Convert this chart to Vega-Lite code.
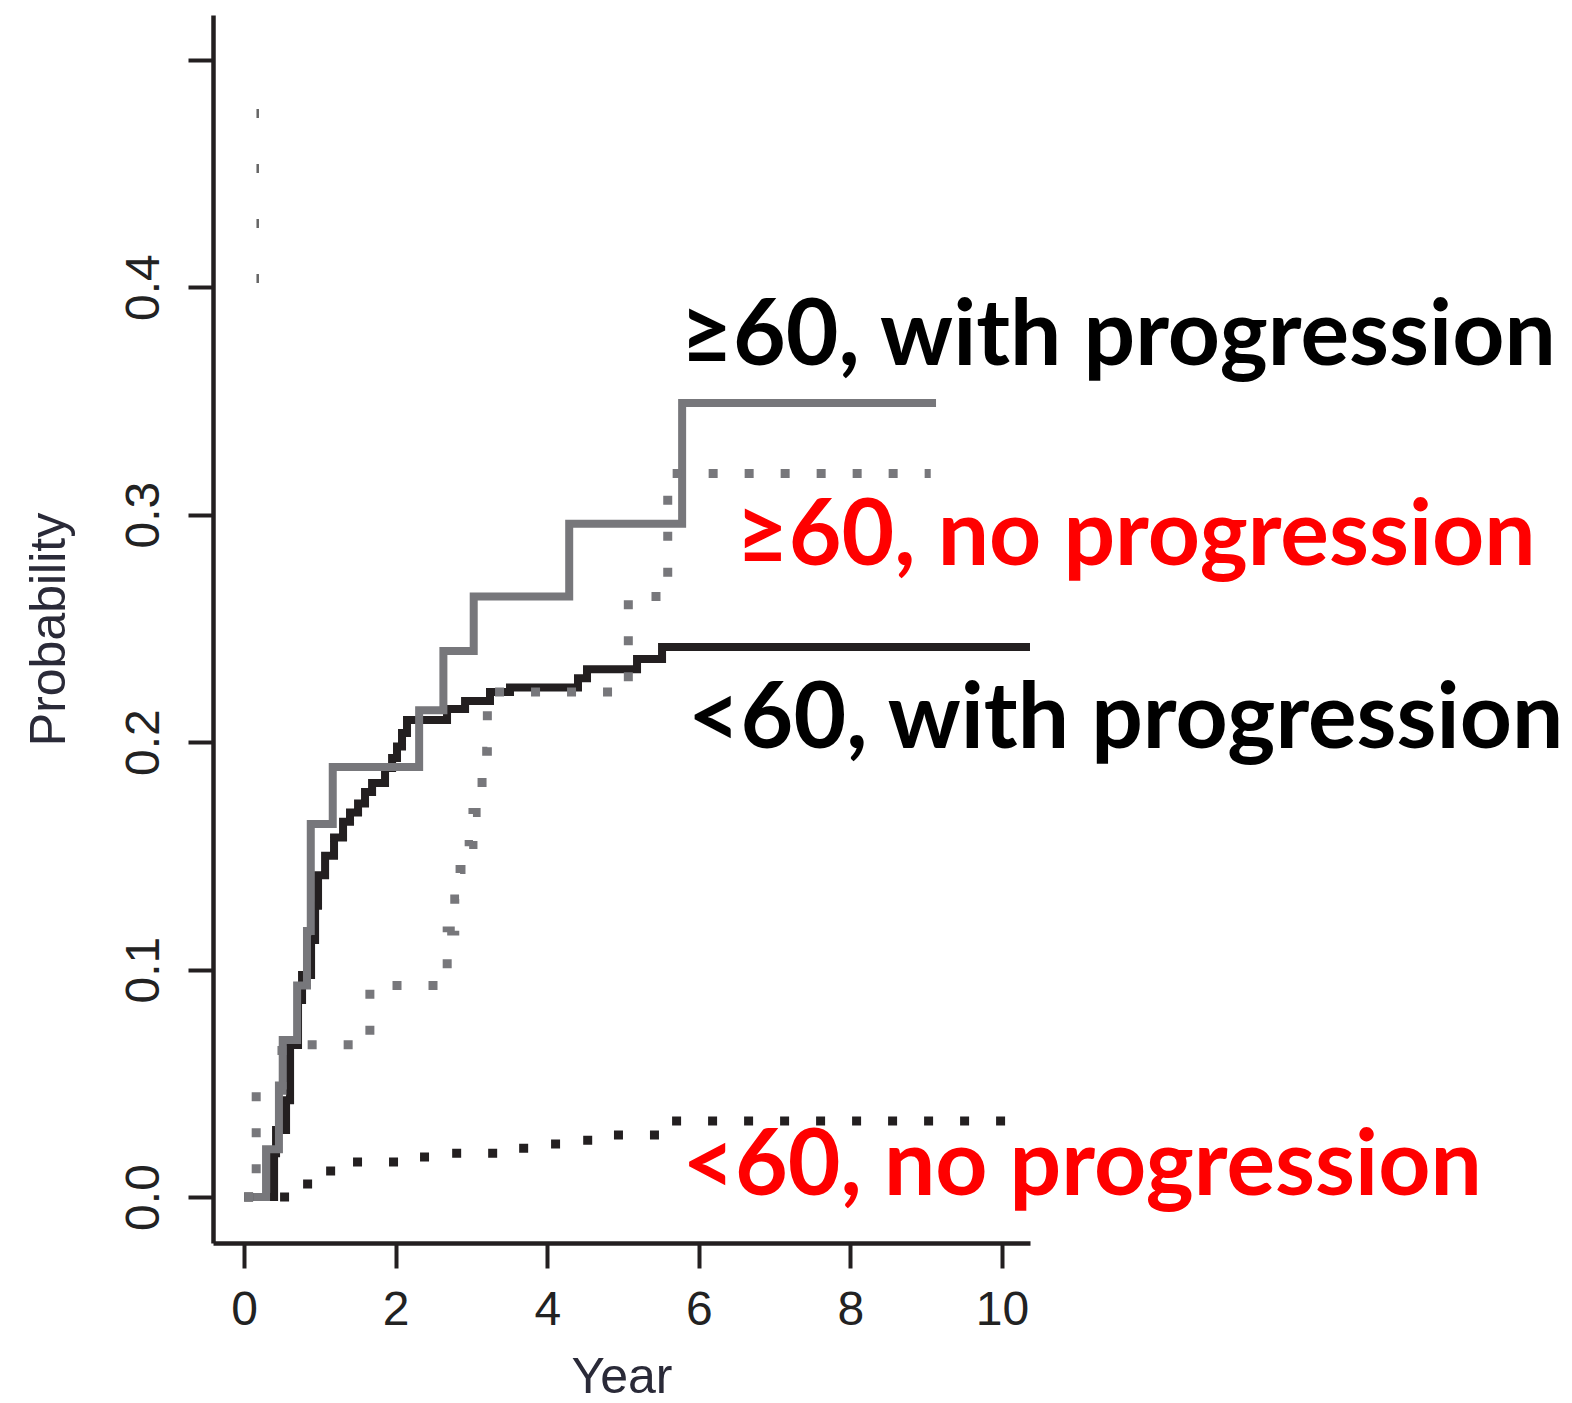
{
  "$schema": "https://vega.github.io/schema/vega-lite/v6.json",
  "width": 817,
  "height": 1228,
  "autosize": {"type": "none"},
  "padding": {"left": 213, "top": 15, "right": 542, "bottom": 160},
  "background": "white",
  "config": {
    "view": {"stroke": null},
    "axis": {
      "grid": false,
      "domainColor": "#231f20",
      "domainWidth": 4.5,
      "tickColor": "#231f20",
      "tickWidth": 4,
      "tickSize": 25,
      "labelFont": "Liberation Sans",
      "labelFontSize": 48,
      "labelColor": "#222222",
      "labelFlush": false,
      "labelOverlap": false,
      "labelBound": false,
      "titleFont": "Liberation Sans",
      "titleFontSize": 50,
      "titleFontWeight": "normal",
      "titleColor": "#2a2a38"
    }
  },
  "datasets": {
    "curves": [
      {"series": "<60, with progression", "year": 0, "prob": 0},
      {"series": "<60, with progression", "year": 0.396, "prob": 0.0193},
      {"series": "<60, with progression", "year": 0.422, "prob": 0.0295},
      {"series": "<60, with progression", "year": 0.554, "prob": 0.0426},
      {"series": "<60, with progression", "year": 0.607, "prob": 0.0668},
      {"series": "<60, with progression", "year": 0.712, "prob": 0.0866},
      {"series": "<60, with progression", "year": 0.765, "prob": 0.0976},
      {"series": "<60, with progression", "year": 0.884, "prob": 0.113},
      {"series": "<60, with progression", "year": 0.937, "prob": 0.128},
      {"series": "<60, with progression", "year": 0.976, "prob": 0.1415},
      {"series": "<60, with progression", "year": 1.069, "prob": 0.150},
      {"series": "<60, with progression", "year": 1.187, "prob": 0.158},
      {"series": "<60, with progression", "year": 1.306, "prob": 0.165},
      {"series": "<60, with progression", "year": 1.398, "prob": 0.169},
      {"series": "<60, with progression", "year": 1.504, "prob": 0.173},
      {"series": "<60, with progression", "year": 1.596, "prob": 0.178},
      {"series": "<60, with progression", "year": 1.689, "prob": 0.182},
      {"series": "<60, with progression", "year": 1.860, "prob": 0.1886},
      {"series": "<60, with progression", "year": 1.953, "prob": 0.193},
      {"series": "<60, with progression", "year": 2.018, "prob": 0.198},
      {"series": "<60, with progression", "year": 2.084, "prob": 0.204},
      {"series": "<60, with progression", "year": 2.150, "prob": 0.2097},
      {"series": "<60, with progression", "year": 2.678, "prob": 0.2145},
      {"series": "<60, with progression", "year": 2.916, "prob": 0.218},
      {"series": "<60, with progression", "year": 3.245, "prob": 0.222},
      {"series": "<60, with progression", "year": 3.509, "prob": 0.224},
      {"series": "<60, with progression", "year": 4.406, "prob": 0.228},
      {"series": "<60, with progression", "year": 4.525, "prob": 0.232},
      {"series": "<60, with progression", "year": 5.185, "prob": 0.2365},
      {"series": "<60, with progression", "year": 5.515, "prob": 0.2418},
      {"series": "<60, with progression", "year": 10.5, "prob": 0.2418},

      {"series": "≥60, with progression", "year": 0, "prob": 0},
      {"series": "≥60, with progression", "year": 0.29, "prob": 0.021},
      {"series": "≥60, with progression", "year": 0.46, "prob": 0.049},
      {"series": "≥60, with progression", "year": 0.51, "prob": 0.069},
      {"series": "≥60, with progression", "year": 0.70, "prob": 0.093},
      {"series": "≥60, with progression", "year": 0.83, "prob": 0.117},
      {"series": "≥60, with progression", "year": 0.88, "prob": 0.164},
      {"series": "≥60, with progression", "year": 1.17, "prob": 0.189},
      {"series": "≥60, with progression", "year": 2.31, "prob": 0.214},
      {"series": "≥60, with progression", "year": 2.63, "prob": 0.240},
      {"series": "≥60, with progression", "year": 3.03, "prob": 0.264},
      {"series": "≥60, with progression", "year": 4.29, "prob": 0.296},
      {"series": "≥60, with progression", "year": 5.78, "prob": 0.349},
      {"series": "≥60, with progression", "year": 9.13, "prob": 0.349},

      {"series": "<60, no progression", "year": 0, "prob": 0},
      {"series": "<60, no progression", "year": 0.65, "prob": 0.0057},
      {"series": "<60, no progression", "year": 0.98, "prob": 0.0114},
      {"series": "<60, no progression", "year": 1.30, "prob": 0.0154},
      {"series": "<60, no progression", "year": 2.20, "prob": 0.0176},
      {"series": "<60, no progression", "year": 2.60, "prob": 0.0193},
      {"series": "<60, no progression", "year": 3.40, "prob": 0.0215},
      {"series": "<60, no progression", "year": 3.90, "prob": 0.0233},
      {"series": "<60, no progression", "year": 4.40, "prob": 0.025},
      {"series": "<60, no progression", "year": 4.75, "prob": 0.0273},
      {"series": "<60, no progression", "year": 5.52, "prob": 0.0334},
      {"series": "<60, no progression", "year": 10.5, "prob": 0.0334},

      {"series": "≥60, no progression", "year": 0, "prob": 0},
      {"series": "≥60, no progression", "year": 0.16, "prob": 0.047},
      {"series": "≥60, no progression", "year": 0.50, "prob": 0.067},
      {"series": "≥60, no progression", "year": 1.66, "prob": 0.093},
      {"series": "≥60, no progression", "year": 2.68, "prob": 0.117},
      {"series": "≥60, no progression", "year": 2.78, "prob": 0.131},
      {"series": "≥60, no progression", "year": 2.85, "prob": 0.144},
      {"series": "≥60, no progression", "year": 2.97, "prob": 0.155},
      {"series": "≥60, no progression", "year": 3.02, "prob": 0.169},
      {"series": "≥60, no progression", "year": 3.14, "prob": 0.196},
      {"series": "≥60, no progression", "year": 3.21, "prob": 0.222},
      {"series": "≥60, no progression", "year": 5.07, "prob": 0.264},
      {"series": "≥60, no progression", "year": 5.59, "prob": 0.318},
      {"series": "≥60, no progression", "year": 9.06, "prob": 0.318},

      {"series": "stray", "year": 0.18, "prob": 0.4018},
      {"series": "stray", "year": 0.18, "prob": 0.4785}
    ],
    "labels": [
      {"label": "≥60, with progression", "progression": "with", "year": 5.755, "prob": 0.3657},
      {"label": "≥60, no progression", "progression": "no", "year": 6.49, "prob": 0.2778},
      {"label": "<60, with progression", "progression": "with", "year": 5.855, "prob": 0.1974},
      {"label": "<60, no progression", "progression": "no", "year": 5.78, "prob": 0.0009}
    ]
  },
  "layer": [
    {
      "data": {"name": "curves"},
      "transform": [{"filter": "datum.series === '<60, with progression'"}],
      "mark": {"type": "line", "interpolate": "step-after", "color": "#231f20", "strokeWidth": 8, "strokeCap": "butt", "strokeJoin": "miter", "clip": true},
      "encoding": {
        "x": {"field": "year", "type": "quantitative", "scale": {"domain": [-0.41, 10.37], "nice": false, "zero": false},
              "axis": {"values": [0, 2, 4, 6, 8, 10], "format": "d", "title": "Year", "labelPadding": 18, "titlePadding": 18}},
        "y": {"field": "prob", "type": "quantitative", "scale": {"domain": [-0.0202, 0.5196], "nice": false, "zero": false},
              "axis": {"values": [0, 0.1, 0.2, 0.3, 0.4, 0.5], "title": "Probability", "labelAngle": -90, "labelAlign": "center", "labelBaseline": "alphabetic", "labelPadding": 30, "titlePadding": 46,
                       "labelExpr": "datum.value > 0.45 ? '' : format(datum.value, '.1f')"}}
      }
    },
    {
      "data": {"name": "curves"},
      "transform": [{"filter": "datum.series === '≥60, with progression'"}],
      "mark": {"type": "line", "interpolate": "step-after", "color": "#77777b", "strokeWidth": 8, "strokeCap": "butt", "strokeJoin": "miter", "clip": true},
      "encoding": {"x": {"field": "year", "type": "quantitative"}, "y": {"field": "prob", "type": "quantitative"}}
    },
    {
      "data": {"name": "curves"},
      "transform": [{"filter": "datum.series === '<60, no progression'"}],
      "mark": {"type": "line", "interpolate": "step-after", "color": "#231f20", "strokeWidth": 9, "strokeDash": [9, 27], "strokeCap": "butt", "clip": true},
      "encoding": {"x": {"field": "year", "type": "quantitative"}, "y": {"field": "prob", "type": "quantitative"}}
    },
    {
      "data": {"name": "curves"},
      "transform": [{"filter": "datum.series === '≥60, no progression'"}],
      "mark": {"type": "line", "interpolate": "step-after", "color": "#77777b", "strokeWidth": 9, "strokeDash": [9, 27], "strokeCap": "butt", "clip": true},
      "encoding": {"x": {"field": "year", "type": "quantitative"}, "y": {"field": "prob", "type": "quantitative"}}
    },
    {
      "data": {"name": "curves"},
      "transform": [{"filter": "datum.series === 'stray'"}],
      "mark": {"type": "line", "color": "#666666", "strokeWidth": 2.5, "strokeDash": [9, 46], "strokeCap": "butt", "clip": true},
      "encoding": {"x": {"field": "year", "type": "quantitative"}, "y": {"field": "prob", "type": "quantitative"}}
    },
    {
      "data": {"name": "labels"},
      "mark": {"type": "text", "align": "left", "baseline": "alphabetic", "font": "Lato", "fontWeight": "bold", "fontSize": 91},
      "encoding": {
        "x": {"field": "year", "type": "quantitative"},
        "y": {"field": "prob", "type": "quantitative"},
        "text": {"field": "label"},
        "color": {"field": "progression", "type": "nominal", "scale": {"domain": ["with", "no"], "range": ["#000000", "#ff0000"]}, "legend": null}
      }
    }
  ]
}
